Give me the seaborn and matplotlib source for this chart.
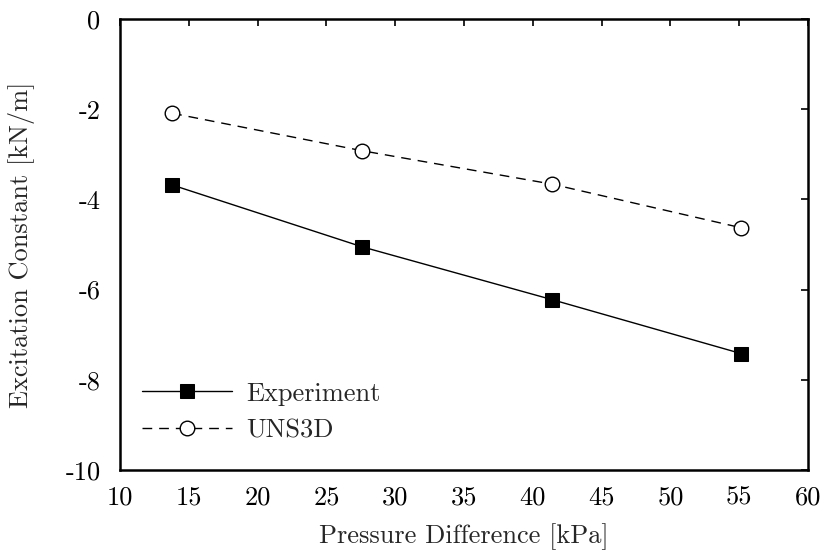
import matplotlib
matplotlib.use("Agg")
import matplotlib.pyplot as plt
import seaborn as sns
import numpy as np
import pandas as pd

pressure = [13.79, 27.58, 41.37, 55.16]
experiment = [-3.68, -5.05, -6.22, -7.42]
uns3d = [-2.09, -2.92, -3.66, -4.63]
xticks = [10, 15, 20, 25, 30, 35, 40, 45, 50, 55, 60]
yticks = [-10, -8, -6, -4, -2, 0]

sns.set_theme(style="white")
plt.rcParams['font.family'] = ['cmr10', 'DejaVu Serif']
plt.rcParams['axes.unicode_minus'] = False
plt.rcParams['mathtext.fontset'] = 'cm'

FS = 19

fig = plt.figure(figsize=(8.25, 5.54), dpi=100)
ax = fig.add_axes([120/825, 1-470/554, (808-120)/825, (470-19)/554])

sns.lineplot(x=pressure, y=experiment, ax=ax, color='black', linewidth=1.0,
             marker='s', markersize=9.5, markerfacecolor='black',
             markeredgecolor='black', label='Experiment')
sns.lineplot(x=pressure, y=uns3d, ax=ax, color='black', linewidth=1.0,
             linestyle=(0, (7, 5)), marker='o', markersize=10.5,
             markerfacecolor='white', markeredgecolor='black',
             markeredgewidth=1.0, label='UNS3D')

ax.set_xlim(10, 60)
ax.set_ylim(-10, 0)
ax.set_xticks(xticks)
ax.set_xticklabels([str(v) for v in xticks])
ax.set_yticks(yticks)
ax.set_yticklabels([str(v) for v in yticks])
ax.tick_params(direction='in', length=5, width=1.2, top=True, right=True,
               labelsize=FS, colors='black')
ax.tick_params(axis='x', pad=11)
ax.tick_params(axis='y', pad=14)
for s in ax.spines.values():
    s.set_linewidth(1.8)
    s.set_color('black')
    s.set_visible(True)

ax.set_xlabel('Pressure Difference [kPa]', fontsize=FS, labelpad=10)
ax.set_ylabel('Excitation Constant [kN/m]', fontsize=FS, labelpad=22)

leg = ax.legend(loc='lower left', frameon=False, fontsize=FS, handlelength=3.4,
                handletextpad=0.55, borderaxespad=0.3, labelspacing=0.5,
                bbox_to_anchor=(0.005, 0.02))

fig.savefig('out.png', dpi=100)
